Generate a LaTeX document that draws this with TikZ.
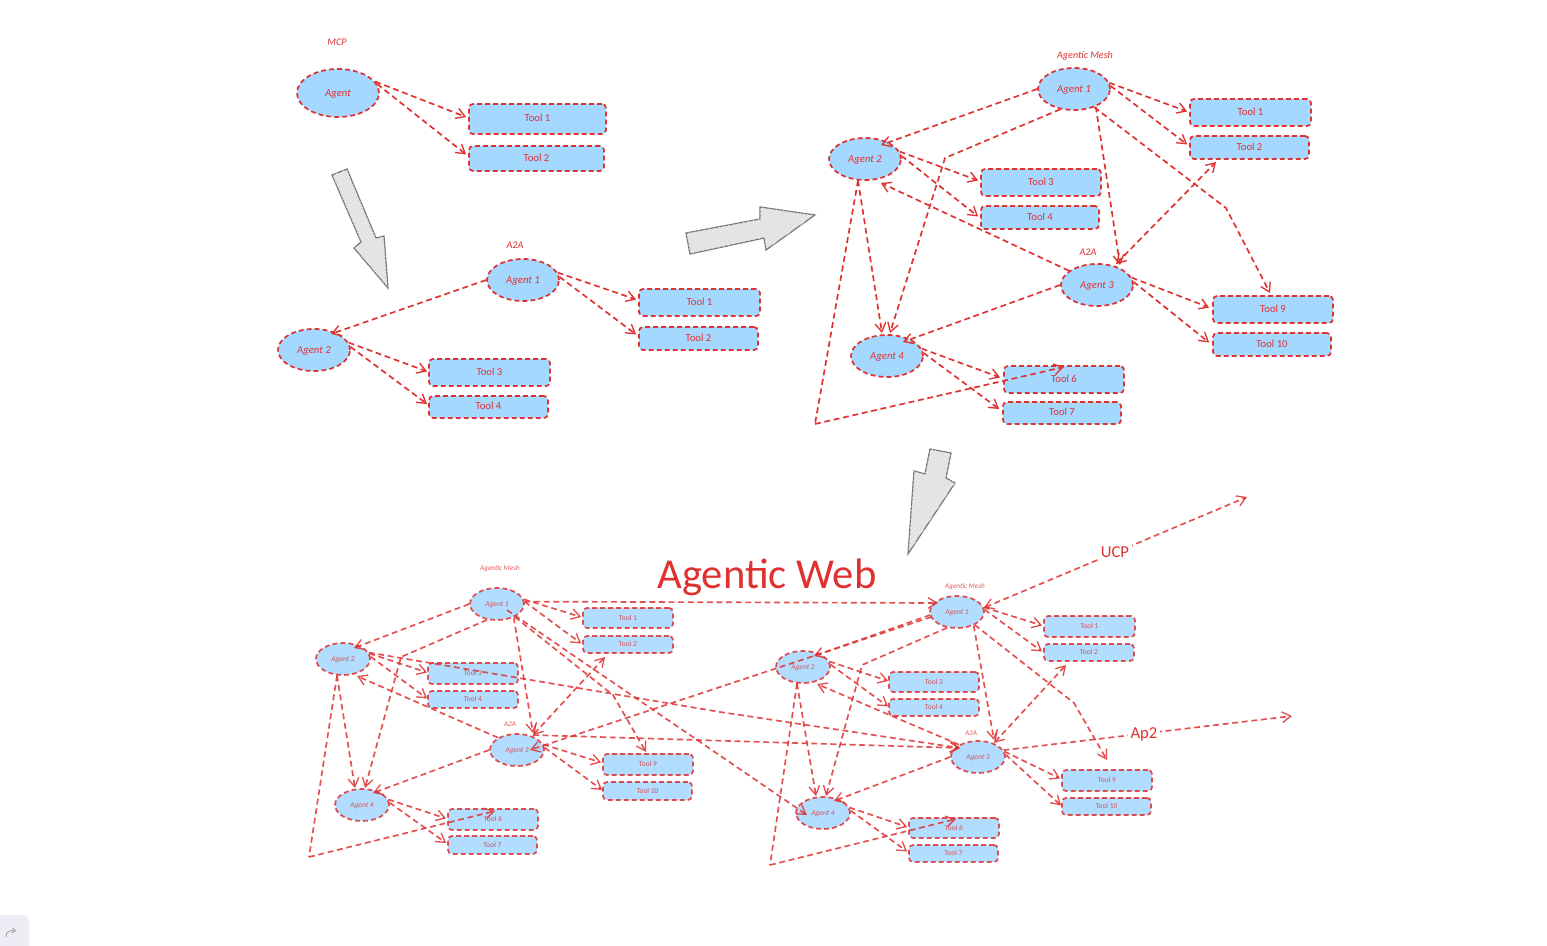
\documentclass[tikz,border=0pt]{standalone}
\usepackage{fontspec}
\setmainfont{Carlito}
\usetikzlibrary{arrows.meta,patterns,shapes.geometric}
\definecolor{rd}{HTML}{E03131}
\definecolor{bl}{HTML}{A5D8FF}
\definecolor{gy}{HTML}{E6E8EA}
\definecolor{cornerbg}{HTML}{ECEDF5}
\tikzset{
  barb/.tip={Straight Barb[length=6.5pt,width=8pt,line width=1pt]},
  line/.style={draw=rd,line width=1.25pt,dash pattern=on 4.4pt off 2.8pt,-barb},
  both/.style={line,barb-barb},
  agentbox/.style={shape=ellipse,draw=rd,fill=bl,line width=1.3pt,dash pattern=on 3.6pt off 2.4pt,inner sep=0pt,text=rd,text height=4.5pt,text depth=0pt,font=\itshape\fontsize{8}{8}\selectfont},
  toolbox/.style={shape=rectangle,rounded corners=3pt,draw=rd,fill=bl,line width=1.3pt,dash pattern=on 3.6pt off 2.4pt,inner sep=0pt,text=rd,text height=4pt,text depth=0pt,font=\fontsize{8}{8}\selectfont},
  tag/.style={text=rd,inner sep=0pt,font=\itshape\fontsize{7.6}{7.6}\selectfont},
  smalltag/.style={tag,font=\itshape\fontsize{5.4}{5.4}\selectfont},
  smallagent/.style={text height=3pt,font=\itshape\fontsize{5.6}{5.6}\selectfont},
  smalltool/.style={text height=3pt,font=\fontsize{5.6}{5.6}\selectfont},
  small/.style={opacity=.85,text opacity=.8},
  bigarrow/.style={draw=gray!90!black,line width=.9pt,fill=gy,line join=miter},
  hatch/.style={pattern=north east lines,pattern color=gray!28},
}
\newcommand{\agentnode}[7][]{\node[agentbox,#1,minimum width=#5*1.5pt,minimum height=#6*1.5pt] (#2) at (#3,#4) {#7};}
\newcommand{\toolnode}[7][]{\node[toolbox,#1,minimum width={(#4-#3)*.75pt},minimum height={(#6-#5)*.75pt}] (#2) at ({(#3+#4)/2},{(#5+#6)/2}) {#7};}
\begin{document}
\begin{tikzpicture}[x=.75pt,y=-.75pt]
\useasboundingbox (0,0) rectangle (1547,946);
\fill[white] (0,0) rectangle (1547,946);

% ---------- corner button
\fill[rounded corners=4pt,fill=cornerbg] (-8,915) -- (29,915) -- (29,954) -- (-8,954) -- cycle;
\draw[gray!70,line width=.7pt,-{Straight Barb[length=2.5pt,width=4pt]}] (6,937) .. controls (6,931) and (10,930) .. (16,931);

% ---------- block arrows
\draw[bigarrow] (332,175) -- (347,169) -- (376,238) -- (384,236) -- (388,288) -- (354,248) -- (361,242) -- cycle;
\fill[hatch] (332,175) -- (347,169) -- (376,238) -- (384,236) -- (388,288) -- (354,248) -- (361,242) -- cycle;
\draw[bigarrow] (686,233) -- (760,219) -- (760,207) -- (815,215) -- (766,250) -- (764,238) -- (690,254) -- cycle;
\fill[hatch] (686,233) -- (760,219) -- (760,207) -- (815,215) -- (766,250) -- (764,238) -- (690,254) -- cycle;
\draw[bigarrow] (930,449) -- (951,453) -- (946,478) -- (955,483) -- (908,554) -- (914,471) -- (925,474) -- cycle;
\fill[hatch] (930,449) -- (951,453) -- (946,478) -- (955,483) -- (908,554) -- (914,471) -- (925,474) -- cycle;

% ---------- MCP
\node[tag] (lmcp) at (337,42) {MCP};
\agentnode{ma}{338}{93}{41}{24}{Agent}
\toolnode{mt1}{469}{606}{104}{134}{Tool 1}
\toolnode{mt2}{469}{604}{146}{171}{Tool 2}
\draw[line] (ma.17) -- ([shift={(-2,-2)}]mt1.west);
\draw[line] (ma.13) -- ([shift={(-2,-4)}]mt2.west);

% ---------- A2A
\node[tag] (la) at (515,245.5) {A2A};
\agentnode{b1}{523}{280}{36}{21}{Agent 1}
\agentnode{b2}{314}{350}{36}{21}{Agent 2}
\toolnode{bt1}{639}{760}{289}{316}{Tool 1}
\toolnode{bt2}{639}{758}{327}{350}{Tool 2}
\toolnode{bt3}{429}{550}{359}{386}{Tool 3}
\toolnode{bt4}{429}{548}{396}{418}{Tool 4}
\draw[line] (b1.west) -- ([shift={(17,-16)}]b2.center);
\draw[line] (b1.12) -- ([shift={(-2,-3)}]bt1.west);
\draw[line] (b1.5) -- ([shift={(-2,-4)}]bt2.west);
\draw[line] (b2.12) -- ([shift={(-1,-1)}]bt3.west);
\draw[line] (b2.5) -- ([shift={(-1,-3)}]bt4.west);

% ---------- Mesh (top right)
\node[tag] (lm) at (1085,55.5) {Agentic Mesh};
\node[tag] (lm2) at (1088,252) {A2A};
\agentnode{c1}{1074}{89}{36}{21}{Agent 1}
\agentnode{c2}{865}{159}{36}{21}{Agent 2}
\agentnode{c3}{1097}{285}{36}{21}{Agent 3}
\agentnode{c4}{887}{356}{36}{21}{Agent 4}
\toolnode{ct1}{1190}{1311}{99}{126}{Tool 1}
\toolnode{ct2}{1190}{1309}{136}{159}{Tool 2}
\toolnode{ct3}{981}{1101}{169}{196}{Tool 3}
\toolnode{ct4}{981}{1099}{206}{229}{Tool 4}
\toolnode{ct9}{1213}{1333}{296}{323}{Tool 9}
\toolnode{ct10}{1213}{1331}{333}{356}{Tool 10}
\toolnode{ct6}{1004}{1124}{366}{393}{Tool 6}
\toolnode{ct7}{1003}{1121}{402}{424}{Tool 7}
\coordinate (cb1) at (945,158);
\coordinate (cb2) at (815,424);
\coordinate (cb3) at (1226,208);
\coordinate (cl) at (1064,367);
\coordinate (cd1) at (1116,264);
\coordinate (cd2) at (1216,162);
\coordinate (cn) at (1270,293);
\draw[line] (c1.west) -- ([shift={(16,-14)}]c2.center);
\draw[line] (c1.10) -- ([shift={(-2,-1)}]ct1.west);
\draw[line] (c1.5) -- ([shift={(-2,-3)}]ct2.west);
\draw[line] (c2.12) -- ([shift={(-2,-2)}]ct3.west);
\draw[line] (c2.5) -- ([shift={(-2,-1)}]ct4.west);
\draw[line] (c3.12) -- ([shift={(-3,-2)}]ct9.west);
\draw[line] (c3.5) -- ([shift={(-3,-2)}]ct10.west);
\draw[line] (c4.12) -- ([shift={(-3,-2)}]ct6.west);
\draw[line] (c4.5) -- ([shift={(-3,-4)}]ct7.west);
\draw[line] (c1.236) -- (cb1) -- ([shift={(3,-23)}]c4.center);
\draw[line] (c2.252) -- ([shift={(-5,-23)}]c4.center);
\draw[line,-] (c2.252) -- (cb2);
\draw[line] (cb2) -- (cl);
\draw[line] (c1.321) -- ([shift={(23,-20)}]c3.center);
\draw[line] (c1.318) -- (cb3) -- (cn);
\draw[line] (c3.153) -- ([shift={(16,24)}]c2.center);
\draw[both] (cd1) -- (cd2);
\draw[line] (c3.west) -- ([shift={(16,-14)}]c4.center);

% ---------- Agentic Web title
\node[text=rd,inner sep=0pt,font=\fontsize{32}{32}\selectfont] (title) at (767,577) {Agentic Web};

% ---------- bottom left mesh
\begin{scope}[every node/.append style={small}]
\node[smalltag] (dl1) at (500,568.5) {Agentic Mesh};
\node[smalltag] (dl2) at (510,724.5) {A2A};
\agentnode[smallagent]{d1}{497}{604}{27}{16}{Agent 1}
\agentnode[smallagent]{d2}{343}{659}{27}{16}{Agent 2}
\agentnode[smallagent]{d3}{517}{750}{27}{16}{Agent 3}
\agentnode[smallagent]{d4}{362}{805}{27}{16}{Agent 4}
\toolnode[smalltool]{dt1}{583}{673}{608}{628}{Tool 1}
\toolnode[smalltool]{dt2}{583}{673}{636}{653}{Tool 2}
\toolnode[smalltool]{dt3}{428}{518}{663}{684}{Tool 3}
\toolnode[smalltool]{dt4}{428}{518}{691}{708}{Tool 4}
\toolnode[smalltool]{dt9}{603}{693}{754}{775}{Tool 9}
\toolnode[smalltool]{dt10}{603}{692}{782}{800}{Tool 10}
\toolnode[smalltool]{dt6}{448}{538}{809}{830}{Tool 6}
\toolnode[smalltool]{dt7}{448}{537}{836}{854}{Tool 7}

% bottom right mesh
\node[smalltag] (el1) at (965,586.5) {Agentic Mesh};
\node[smalltag] (el2) at (971,733) {A2A};
\agentnode[smallagent]{e1}{957}{612}{27}{16}{Agent 1}
\agentnode[smallagent]{e2}{803}{667}{27}{16}{Agent 2}
\agentnode[smallagent]{e3}{978}{757}{27}{16}{Agent 3}
\agentnode[smallagent]{e4}{823}{813}{27}{16}{Agent 4}
\toolnode[smalltool]{et1}{1044}{1135}{616}{637}{Tool 1}
\toolnode[smalltool]{et2}{1044}{1134}{644}{661}{Tool 2}
\toolnode[smalltool]{et3}{889}{979}{672}{692}{Tool 3}
\toolnode[smalltool]{et4}{889}{979}{699}{716}{Tool 4}
\toolnode[smalltool]{et9}{1062}{1152}{770}{791}{Tool 9}
\toolnode[smalltool]{et10}{1062}{1151}{798}{815}{Tool 10}
\toolnode[smalltool]{et6}{909}{999}{818}{838}{Tool 6}
\toolnode[smalltool]{et7}{909}{998}{845}{862}{Tool 7}
\end{scope}

\begin{scope}[opacity=.85]
% left connectors
\coordinate (db1) at (401,657);
\coordinate (db2) at (309,857);
\coordinate (db3) at (613,695);
\coordinate (dl) at (495,811);
\coordinate (dd1) at (533,735);
\coordinate (dd2) at (605,657);
\coordinate (dn) at (646,752);
\draw[line] (d1.west) -- ([shift={(11,-11)}]d2.center);
\draw[line] (d1.238) -- (db1) -- ([shift={(3,-17)}]d4.center);
\draw[line] (d1.10) -- ([shift={(-1,-1)}]dt1.west);
\draw[line] (d1.5) -- ([shift={(-1,-1)}]dt2.west);
\draw[line] (d2.12) -- ([shift={(0,-1)}]dt3.west);
\draw[line] (d2.5) -- ([shift={(0,-1)}]dt4.west);
\draw[line] (d2.250) -- ([shift={(-7,-17)}]d4.center);
\draw[line,-] (d2.250) -- (db2);
\draw[line] (db2) -- (dl);
\draw[line] (d3.147) -- ([shift={(14,17)}]d2.center);
\draw[both] (dd1) -- (dd2);
\draw[line] (d1.321) -- ([shift={(16,-17)}]d3.center);
\draw[line] (d1.324) -- (db3) -- (dn);
\draw[line] (d3.12) -- ([shift={(-1,-2)}]dt9.west);
\draw[line] (d3.5) -- ([shift={(0,-1)}]dt10.west);
\draw[line] (d3.west) -- ([shift={(11,-12)}]d4.center);
\draw[line] (d4.12) -- ([shift={(-1,-1)}]dt6.west);
\draw[line] (d4.5) -- ([shift={(-1,-2)}]dt7.west);
% right connectors
\coordinate (eb1) at (862,665);
\coordinate (eb2) at (770,865);
\coordinate (eb3) at (1074,703);
\coordinate (el) at (956,819);
\coordinate (ed1) at (994,743);
\coordinate (ed2) at (1066,665);
\coordinate (en) at (1107,760);
\draw[line] ([shift={(1,3)}]e1.west) -- ([shift={(11,-11)}]e2.center);
\draw[line] (e1.238) -- (eb1) -- ([shift={(3,-17)}]e4.center);
\draw[line] (e1.10) -- ([shift={(-1,-1)}]et1.west);
\draw[line] (e1.5) -- ([shift={(-1,-1)}]et2.west);
\draw[line] (e2.12) -- ([shift={(0,-1)}]et3.west);
\draw[line] (e2.5) -- ([shift={(0,-1)}]et4.west);
\draw[line] (e2.250) -- ([shift={(-7,-17)}]e4.center);
\draw[line,-] (e2.250) -- (eb2);
\draw[line] (eb2) -- (el);
\draw[line] (e3.147) -- ([shift={(14,17)}]e2.center);
\draw[both] (ed1) -- (ed2);
\draw[line] (e1.321) -- ([shift={(16,-17)}]e3.center);
\draw[line] (e1.324) -- (eb3) -- (en);
\draw[line] (e3.12) -- ([shift={(-1,-2)}]et9.west);
\draw[line] (e3.5) -- ([shift={(0,-1)}]et10.west);
\draw[line] (e3.west) -- ([shift={(11,-12)}]e4.center);
\draw[line] (e4.12) -- ([shift={(-1,-1)}]et6.west);
\draw[line] (e4.5) -- ([shift={(-1,-2)}]et7.west);
% cross connectors
\coordinate (xb) at (720,712);
\draw[line] (d1.5) -- ([shift={(-19,-9)}]e1.center);
\draw[line] (d2.14) -- (xb) -- ([shift={(-18,-9)}]e3.center);
\draw[line] ([shift={(16,-15)}]d3.center) -- ([shift={(-18,-9)}]e3.center);
\draw[line] ([shift={(2,5)}]e1.west) -- ([shift={(13,0)}]d3.center);
\draw[line] ([shift={(10,6)}]d1.center) -- ([shift={(-16,2)}]e4.center);
% protocol lines
\coordinate (ucp) at (1247,497);
\coordinate (ap2) at (1292,716);
\draw[both] (e1.9) -- (ucp);
\draw[line] (e3.15) -- (ap2);
\end{scope}
\node[text=rd,fill=white,inner sep=2pt,font=\fontsize{12.5}{12.5}\selectfont] (lucp) at (1115,552) {UCP};
\node[text=rd,fill=white,inner sep=2pt,font=\fontsize{12.5}{12.5}\selectfont] (lap2) at (1144,734) {Ap2};
\end{tikzpicture}
\end{document}
